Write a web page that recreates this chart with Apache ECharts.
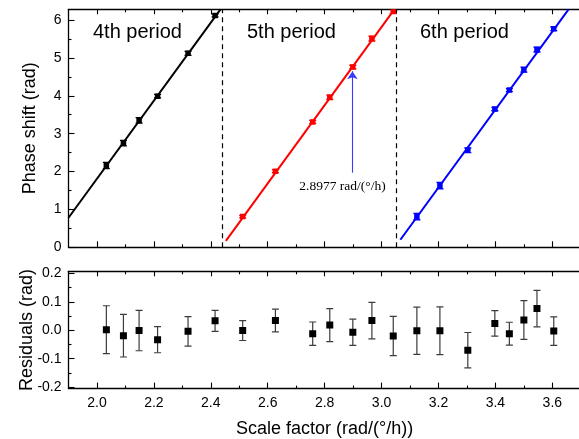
<!DOCTYPE html>
<html>
<head>
<meta charset="utf-8">
<script src="https://cdn.jsdelivr.net/npm/echarts@6/dist/echarts.min.js"></script>
<style>
  html, body { margin: 0; padding: 0; background: #fff; }
  #chart { width: 579px; height: 439px; }
</style>
</head>
<body>
<div id="chart"></div>
<script>
// Scale factor of each measurement, rad/(°/h), grouped by phase period
const sf4 = [2.033, 2.093, 2.148, 2.213, 2.320, 2.415];
const sf5 = [2.512, 2.627, 2.758, 2.818, 2.899, 2.966, 3.041];
const sf6 = [3.124, 3.205, 3.303, 3.398, 3.449, 3.500, 3.546, 3.605];

// Measured phase shift (rad)
const ph4 = [2.16, 2.75, 3.35, 3.99, 5.12, 6.12];
const ph5 = [0.81, 2.01, 3.31, 3.96, 4.76, 5.51, 6.24];
const ph6 = [0.81, 1.63, 2.56, 3.65, 4.15, 4.69, 5.22, 5.77];

// Fit residuals (rad) and their uncertainties
const res4 = [0.002, -0.019, -0.001, -0.033, -0.004, 0.033];
const res5 = [-0.001, 0.034, -0.012, 0.018, -0.007, 0.034, -0.020];
const res6 = [-0.002, -0.002, -0.070, 0.024, -0.012, 0.036, 0.076, -0.003];
const err4 = [0.084, 0.075, 0.071, 0.046, 0.052, 0.037];
const err5 = [0.035, 0.040, 0.041, 0.058, 0.046, 0.064, 0.069];
const err6 = [0.083, 0.084, 0.062, 0.045, 0.040, 0.068, 0.064, 0.050];

// Linear fit segments [scale factor, phase] for each period
const fit4 = [[1.9, 0.78], [2.434, 6.283]];
const fit5 = [[2.453, 0.17], [3.045, 6.283]];
const fit6 = [[3.066, 0.20], [3.657, 6.283]];

// Period boundaries (phase wraps at 2π)
const wraps = [2.436, 3.048];

// Marked working point
const markSF = 2.8977;
const markArrowPhase = [1.97, 4.65];

const periodNames = ['4th period', '5th period', '6th period'];

// Axis ticks
const xMajor = [2.0, 2.2, 2.4, 2.6, 2.8, 3.0, 3.2, 3.4, 3.6];
const xMinor = [2.1, 2.3, 2.5, 2.7, 2.9, 3.1, 3.3, 3.5];
const yPhaseMajor = [0, 1, 2, 3, 4, 5, 6];
const yPhaseMinor = [0.5, 1.5, 2.5, 3.5, 4.5, 5.5];
const yResMajor = [-0.2, -0.1, 0.0, 0.1, 0.2];
const yResMinor = [-0.15, -0.05, 0.05, 0.15];

const X_MIN = 1.9, X_MAX = 3.7;
const PHASE_MAX = 2 * Math.PI;
const RES_MIN = -0.205, RES_MAX = 0.207;

const FONT = '"Liberation Sans", Arial, sans-serif';
const AXIS_COLOR = '#000';
const AXIS_W = 1.3;

function triplets(xs, ys, es) { return xs.map((x, i) => [x, ys[i], es[i]]); }

function errRenderer(color, barColor, sq, cap, lw) {
  return function (params, api) {
    const x = api.value(0), y = api.value(1), e = api.value(2);
    const c = api.coord([x, y]);
    const hi = api.coord([x, y + e]);
    const lo = api.coord([x, y - e]);
    const ls = { stroke: barColor, lineWidth: lw };
    return {
      type: 'group',
      children: [
        { type: 'line', shape: { x1: c[0], y1: hi[1], x2: c[0], y2: lo[1] }, style: ls },
        { type: 'line', shape: { x1: c[0] - cap / 2, y1: hi[1], x2: c[0] + cap / 2, y2: hi[1] }, style: ls },
        { type: 'line', shape: { x1: c[0] - cap / 2, y1: lo[1], x2: c[0] + cap / 2, y2: lo[1] }, style: ls },
        { type: 'rect', shape: { x: c[0] - sq / 2, y: c[1] - sq / 2, width: sq, height: sq }, style: { fill: color } }
      ]
    };
  };
}

function xAxisDef(grid, pos, ticks, len, opts) {
  opts = opts || {};
  return {
    type: 'value', gridIndex: grid, position: pos, min: X_MIN, max: X_MAX,
    axisLine: { show: !!opts.line, onZero: false, lineStyle: { color: AXIS_COLOR, width: AXIS_W } },
    axisTick: { show: true, inside: true, length: len, customValues: ticks,
      lineStyle: { color: AXIS_COLOR, width: 1.1 } },
    axisLabel: opts.labels ? {
      show: true, customValues: ticks, margin: 8, color: '#000',
      fontFamily: FONT, fontSize: 14, formatter: v => v.toFixed(1)
    } : { show: false },
    splitLine: { show: false },
    name: opts.name || '', nameLocation: 'middle', nameGap: 31, nameMoveOverlap: false,
    nameTextStyle: { fontFamily: FONT, fontSize: 18, color: '#000' }
  };
}

function yAxisDef(grid, min, max, ticks, len, opts) {
  opts = opts || {};
  return {
    type: 'value', gridIndex: grid, position: 'left', min: min, max: max,
    axisLine: { show: !!opts.line, onZero: false, lineStyle: { color: AXIS_COLOR, width: AXIS_W } },
    axisTick: { show: true, inside: true, length: len, customValues: ticks,
      lineStyle: { color: AXIS_COLOR, width: 1.1 } },
    axisLabel: opts.labels ? {
      show: true, customValues: ticks, margin: 7, color: '#000',
      fontFamily: FONT, fontSize: 14, formatter: opts.fmt
    } : { show: false },
    splitLine: { show: false },
    name: opts.name || '', nameLocation: 'middle', nameGap: opts.gap || 30, nameRotate: 90,
    nameMoveOverlap: false,
    nameTextStyle: { fontFamily: FONT, fontSize: 18, color: '#000' }
  };
}

const chart = echarts.init(document.getElementById('chart'), null, { renderer: 'canvas' });

const PLOT_LEFT = 68.5;
const PLOT_W = 512.3;

const option = {
  animation: false,
  backgroundColor: '#fff',
  grid: [
    { left: PLOT_LEFT, top: 9.3, width: PLOT_W, height: 238, outerBoundsMode: 'none', containLabel: false },
    { left: PLOT_LEFT, top: 271.3, width: PLOT_W, height: 117.3, outerBoundsMode: 'none', containLabel: false }
  ],
  xAxis: [
    // upper panel
    xAxisDef(0, 'bottom', xMajor, 6, { line: true }),
    xAxisDef(0, 'bottom', xMinor, 3),
    xAxisDef(0, 'top', xMajor, 5, { line: true }),
    xAxisDef(0, 'top', xMinor, 3),
    // lower panel
    xAxisDef(1, 'bottom', xMajor, 6, { line: true, labels: true, name: 'Scale factor (rad/(°/h))' }),
    xAxisDef(1, 'bottom', xMinor, 3),
    xAxisDef(1, 'top', xMajor, 5, { line: true }),
    xAxisDef(1, 'top', xMinor, 3)
  ],
  yAxis: [
    yAxisDef(0, 0, PHASE_MAX, yPhaseMajor, 6, { line: true, labels: true, fmt: v => String(Math.round(v)), name: 'Phase shift (rad)', gap: 29 }),
    yAxisDef(0, 0, PHASE_MAX, yPhaseMinor, 3),
    yAxisDef(1, RES_MIN, RES_MAX, yResMajor, 6, { line: true, labels: true, fmt: v => v.toFixed(1), name: 'Residuals (rad)', gap: 32.5 }),
    yAxisDef(1, RES_MIN, RES_MAX, yResMinor, 3)
  ],
  series: [
    {
      type: 'line', xAxisIndex: 0, yAxisIndex: 0, data: fit4, showSymbol: false, symbol: 'none',
      lineStyle: { color: '#000', width: 2 }, silent: true, clip: true,
      markLine: {
        silent: true, symbol: 'none', animation: false,
        lineStyle: { color: '#000', width: 1.2, type: [5, 4] },
        label: { show: false },
        data: wraps.map(v => ({ xAxis: v }))
      }
    },
    {
      type: 'line', xAxisIndex: 0, yAxisIndex: 0, data: fit5, showSymbol: false, symbol: 'none',
      lineStyle: { color: '#ff0000', width: 2 }, silent: true, clip: true,
      markLine: {
        silent: true, animation: false, symbol: ['none', 'arrow'], symbolSize: 8,
        lineStyle: { color: '#3a3aff', width: 1.1, type: 'solid' },
        label: { show: false },
        data: [[{ coord: [markSF, markArrowPhase[0]] }, { coord: [markSF, markArrowPhase[1]] }]]
      },
      markPoint: {
        silent: true, animation: false, symbol: 'circle', symbolSize: 0,
        itemStyle: { color: 'transparent' },
        label: {
          show: true, position: 'inside', offset: [-10, 14],
          formatter: markSF.toFixed(4) + ' rad/(°/h)',
          fontFamily: '"Liberation Serif", "Times New Roman", serif', fontSize: 13.5, color: '#000'
        },
        data: [{ coord: [markSF, markArrowPhase[0]] }]
      }
    },
    {
      type: 'line', xAxisIndex: 0, yAxisIndex: 0, data: fit6, showSymbol: false, symbol: 'none',
      lineStyle: { color: '#0000ff', width: 2 }, silent: true, clip: true
    },
    { type: 'custom', xAxisIndex: 0, yAxisIndex: 0, clip: true, silent: true,
      renderItem: errRenderer('#000', '#000', 5.5, 7, 1.3), data: triplets(sf4, ph4, err4) },
    { type: 'custom', xAxisIndex: 0, yAxisIndex: 0, clip: true, silent: true,
      renderItem: errRenderer('#ff0000', '#ff0000', 5.5, 7, 1.3), data: triplets(sf5, ph5, err5) },
    { type: 'custom', xAxisIndex: 0, yAxisIndex: 0, clip: true, silent: true,
      renderItem: errRenderer('#0000ff', '#0000ff', 5.5, 7, 1.3), data: triplets(sf6, ph6, err6) },
    // residuals
    { type: 'custom', xAxisIndex: 4, yAxisIndex: 2, clip: true, silent: true,
      renderItem: errRenderer('#000', '#3c3c3c', 7, 7, 1.2),
      data: triplets(sf4, res4, err4).concat(triplets(sf5, res5, err5), triplets(sf6, res6, err6)) }
  ],
  graphic: [
    { type: 'text', left: 138 - 45, top: 22, style: { text: periodNames[0], font: '20px ' + FONT, fill: '#000' } },
    { type: 'text', left: 292 - 45, top: 22, style: { text: periodNames[1], font: '20px ' + FONT, fill: '#000' } },
    { type: 'text', left: 465 - 45, top: 22, style: { text: periodNames[2], font: '20px ' + FONT, fill: '#000' } }
  ]
};

chart.setOption(option);
</script>
</body>
</html>
